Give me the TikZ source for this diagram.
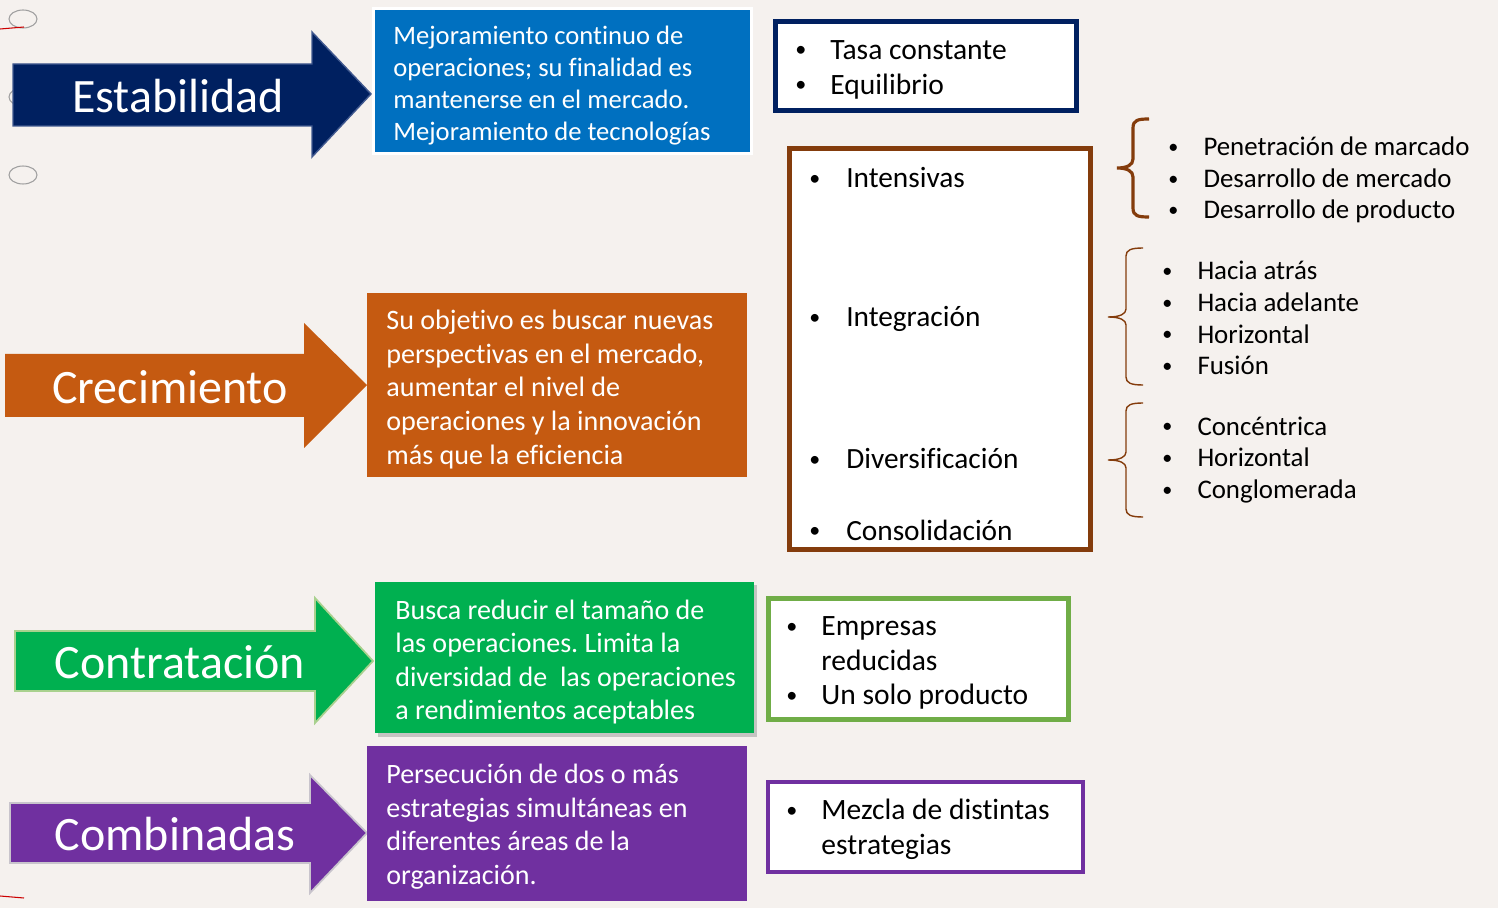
\documentclass[tikz,border=0pt]{standalone}
\usepackage{fontspec}
\usepackage{graphicx}
\setmainfont{Carlito}[Ligatures=CommonOff]
\frenchspacing

\definecolor{bg}{HTML}{F5F1EE}
\definecolor{navy}{HTML}{002060}
\definecolor{navyedge}{HTML}{41598F}
\definecolor{blueb}{HTML}{0070C0}
\definecolor{orangeb}{HTML}{C55A11}
\definecolor{greenb}{HTML}{00B050}
\definecolor{greenedge}{HTML}{A9D18E}
\definecolor{purpleb}{HTML}{7030A0}
\definecolor{purpleedge}{HTML}{C8C4CC}
\definecolor{brownb}{HTML}{843C0C}
\definecolor{leafb}{HTML}{70AD47}

\newcommand{\itm}{\makebox[20pt][l]{\hspace{0pt}\raisebox{0.08em}{\scalebox{0.75}{\textbullet}}}}

\begin{document}
\begin{tikzpicture}[x=0.02cm, y=-0.02cm,
  lbl/.style={text=white, inner sep=0pt, font=\fontsize{27.3}{32}\selectfont},
  para/.style={text=white, inner sep=0pt, anchor=west, align=left},
  lst/.style={inner sep=0pt, anchor=west, align=left, text=black},
  brace/.style={draw=brownb, line width=0.8pt}]

\useasboundingbox (0,0) rectangle (1498,908);
\fill[bg] (0,0) rectangle (1498,908);

% marks at the left edge
\begin{scope}[draw=gray!75, line width=0.6pt]
\draw (23,19) ellipse (0.28cm and 0.18cm);
\draw (23,97) ellipse (0.28cm and 0.18cm);
\draw (23,175) ellipse (0.28cm and 0.18cm);
\end{scope}
\draw[red!80!black, line width=0.6pt] (0,29) -- (24,27);
\draw[red!80!black, line width=0.6pt] (0,896) -- (24,898);

% arrows
\filldraw[fill=navy, draw=navyedge, line width=0.8pt] (13,64) -- (312,64) -- (312,32) -- (371,94) -- (312,157) -- (312,126) -- (13,126) -- cycle;
\node[lbl] (estab) at (178,96) {Estabilidad};

\fill[orangeb] (5,354) -- (304,354) -- (304,323) -- (367,385) -- (304,448) -- (304,417) -- (5,417) -- cycle;
\node[lbl] (crec) at (170,387) {Crecimiento};

\filldraw[fill=greenb, draw=greenedge, line width=1pt] (15,631) -- (315,631) -- (315,598) -- (373,661) -- (315,723) -- (315,691) -- (15,691) -- cycle;
\node[lbl] (contr) at (180,662) {Contratación};

\filldraw[fill=purpleb, draw=purpleedge, line width=1pt] (10,803) -- (310,803) -- (310,775) -- (367,833) -- (310,893) -- (310,863) -- (10,863) -- cycle;
\node[lbl] (comb) at (175,834) {Combinadas};

% coloured boxes
\fill[blueb] (375,10) rectangle (750,152);
\draw[white, line width=1.7pt] (373.5,8.5) rectangle (751.5,153.5);
\node[para, font=\fontsize{15.15}{18.2}\selectfont] (estabtxt) at (393,85.5)
  {Mejoramiento continuo de\\operaciones; su finalidad es\\mantenerse en el mercado.\\Mejoramiento de tecnologías};

\fill[orangeb] (367,293) rectangle (747,477);
\node[para, font=\fontsize{16}{19.2}\selectfont] (crectxt) at (386,389.5)
  {Su objetivo es buscar nuevas\\perspectivas en el mercado,\\aumentar el nivel de\\operaciones y la innovación\\más que la eficiencia};

\fill[black!35, opacity=0.6] (378,585) rectangle (757,737);
\fill[greenb] (375,582) rectangle (754,733);
\node[para, font=\fontsize{15.95}{19}\selectfont] (contrtxt) at (395,662)
  {Busca reducir el tamaño de\\las operaciones. Limita la\\diversidad de\ \ las operaciones\\a rendimientos aceptables};

\fill[purpleb] (367,746) rectangle (747,901);
\node[para, font=\fontsize{15.95}{19.1}\selectfont] (combtxt) at (386,826.5)
  {Persecución de dos o más\\estrategias simultáneas en\\diferentes áreas de la\\organización.};

% white boxes with lists
\filldraw[fill=white, draw=navy, line width=2.8pt] (775.5,21.5) rectangle (1076.5,110.5);
\node[lst, font=\fontsize{16.8}{20}\selectfont] (establst) at (795,69.5)
  {\itm Tasa constante\\\itm Equilibrio};

\filldraw[fill=white, draw=brownb, line width=2.8pt] (789.5,148.5) rectangle (1090.5,549.5);
\begin{scope}[font=\fontsize{16.7}{20}\selectfont]
\node[lst] (intens) at (809,178) {\itm\hspace{1pt}Intensivas};
\node[lst] (integ) at (809,319) {\itm\hspace{1pt}Integración};
\node[lst] (divers) at (809,459) {\itm\hspace{1pt}Diversificación};
\node[lst] (consol) at (809,530) {\itm\hspace{1pt}Consolidación};
\end{scope}

\filldraw[fill=white, draw=leafb, line width=2.8pt] (768.5,598.5) rectangle (1068.5,719.5);
\node[lst, font=\fontsize{16.8}{19.7}\selectfont] (contrlst) at (786,663)
  {\itm Empresas\\\hspace*{20pt}reducidas\\\itm Un solo producto};

\filldraw[fill=white, draw=purpleb, line width=2.4pt] (768,782) rectangle (1083,872);
\node[lst, font=\fontsize{16.8}{19.8}\selectfont] (comblst) at (786,829.5)
  {\itm Mezcla de distintas\\\hspace*{20pt}estrategias};

% braces
\draw[brace, line width=1.8pt] (1149,119) .. controls (1138,119) and (1133,120) .. (1133,128) -- (1133,159) .. controls (1133,165) and (1127,168) .. (1117,168) .. controls (1127,168) and (1133,171) .. (1133,177) -- (1133,208) .. controls (1133,216) and (1138,217) .. (1149,217);
\draw[brace] (1143,248) .. controls (1131,248) and (1126,250) .. (1126,256) -- (1126,309) .. controls (1126,314) and (1120,317) .. (1108,317) .. controls (1120,317) and (1126,320) .. (1126,325) -- (1126,377) .. controls (1126,383) and (1131,385) .. (1143,385);
\draw[brace] (1143,403) .. controls (1131,403) and (1126,405) .. (1126,411) -- (1126,452) .. controls (1126,457) and (1120,460) .. (1108,460) .. controls (1120,460) and (1126,463) .. (1126,468) -- (1126,509) .. controls (1126,515) and (1131,517) .. (1143,517);

% lists beside the braces
\begin{scope}[font=\fontsize{15.3}{18.1}\selectfont]
\node[lst] (intenslst) at (1168,180)
  {\itm Penetración de marcado\\\itm Desarrollo de mercado\\\itm Desarrollo de producto};
\node[lst] (integlst) at (1162,318)
  {\itm Hacia atrás\\\itm Hacia adelante\\\itm Horizontal\\\itm Fusión};
\node[lst] (diverslst) at (1162,460)
  {\itm Concéntrica\\\itm Horizontal\\\itm Conglomerada};
\end{scope}
\end{tikzpicture}
\end{document}
